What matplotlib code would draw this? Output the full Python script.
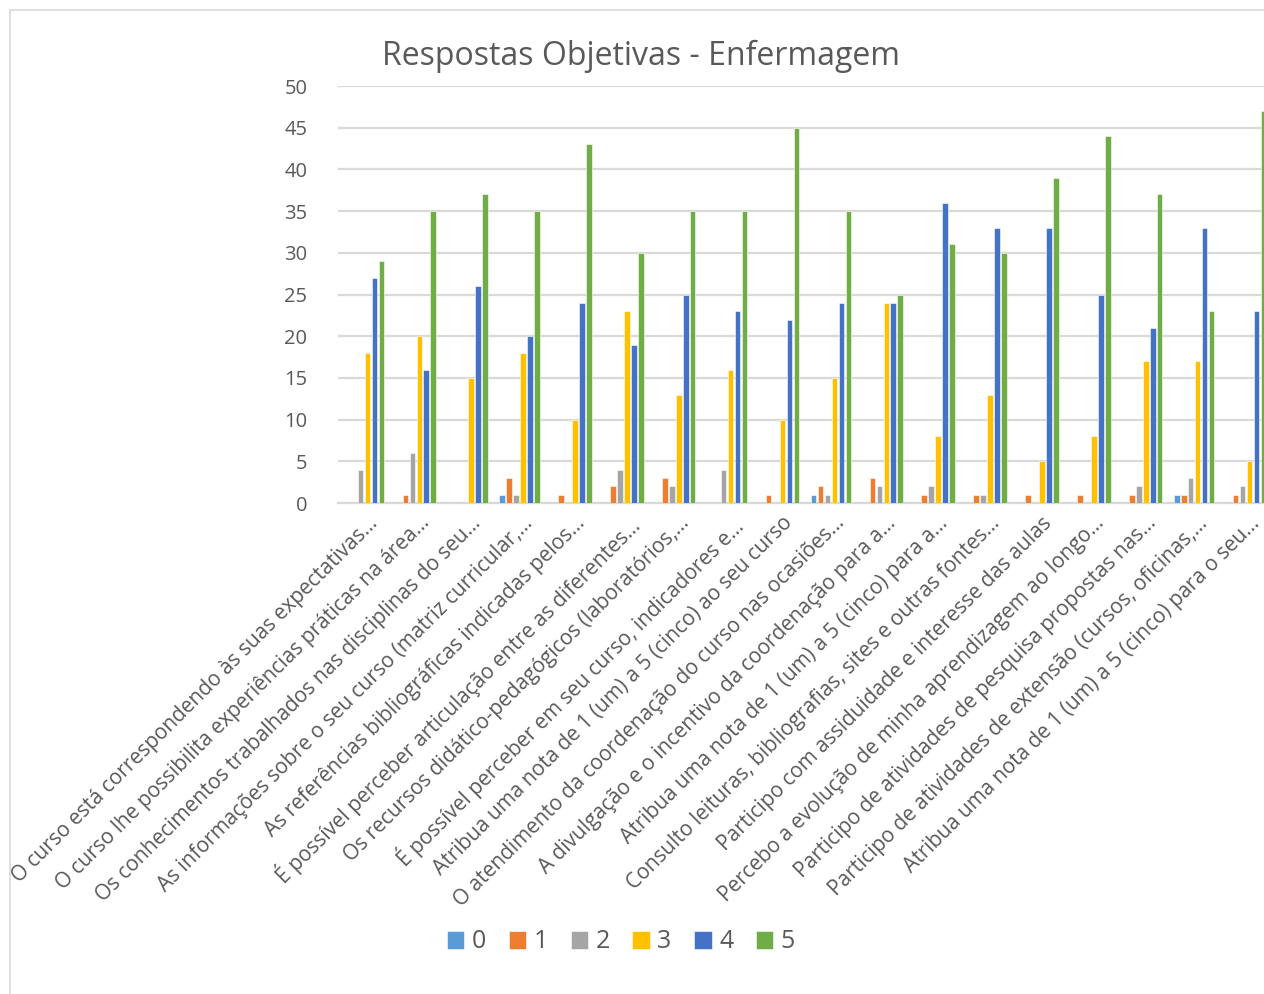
import numpy as np
import matplotlib
matplotlib.use("Agg")
import matplotlib.pyplot as plt
import matplotlib.transforms as mtransforms
from matplotlib.patches import Rectangle

plt.rcParams['font.family'] = ['Open Sans', 'DejaVu Sans']

# ======== Dados ========
perguntas = [
    "O curso está correspondendo às suas expectativas...",
    "O curso lhe possibilita experiências práticas na área...",
    "Os conhecimentos trabalhados nas disciplinas do seu...",
    "As informações sobre o seu curso (matriz curricular,...",
    "As referências bibliográficas indicadas pelos...",
    "É possível perceber articulação entre as diferentes...",
    "Os recursos didático-pedagógicos (laboratórios,...",
    "É possível perceber em seu curso, indicadores e...",
    "Atribua uma nota de 1 (um) a 5 (cinco) ao seu curso",
    "O atendimento da coordenação do curso nas ocasiões...",
    "A divulgação e o incentivo da coordenação para a...",
    "Atribua uma nota de 1 (um) a 5 (cinco) para a...",
    "Consulto leituras, bibliografias, sites e outras fontes...",
    "Participo com assiduidade e interesse das aulas",
    "Percebo a evolução de minha aprendizagem ao longo...",
    "Participo de atividades de pesquisa propostas nas...",
    "Participo de atividades de extensão (cursos, oficinas,...",
    "Atribua uma nota de 1 (um) a 5 (cinco) para o seu...",
]

notas = ["0", "1", "2", "3", "4", "5"]

nota_0 = [0, 0, 0, 1, 0, 0, 0, 0, 0, 1, 0, 0, 0, 0, 0, 0, 1, 0]
nota_1 = [0, 1, 0, 3, 1, 2, 3, 0, 1, 2, 3, 1, 1, 1, 1, 1, 1, 1]
nota_2 = [4, 6, 0, 1, 0, 4, 2, 4, 0, 1, 2, 2, 1, 0, 0, 2, 3, 2]
nota_3 = [18, 20, 15, 18, 10, 23, 13, 16, 10, 15, 24, 8, 13, 5, 8, 17, 17, 5]
nota_4 = [27, 16, 26, 20, 24, 19, 25, 23, 22, 24, 24, 36, 33, 33, 25, 21, 33, 23]
nota_5 = [29, 35, 37, 35, 43, 30, 35, 35, 45, 35, 25, 31, 30, 39, 44, 37, 23, 47]

series = [nota_0, nota_1, nota_2, nota_3, nota_4, nota_5]
cores = ["#5B9BD5", "#ED7D31", "#A5A5A5", "#FFC000", "#4472C4", "#70AD47"]

# ======== Figura ========
fig = plt.figure(figsize=(12.64, 9.94), dpi=100)
fig.patches.append(Rectangle((10 / 1264, -0.01), 1.1, 1 - 10 / 994 + 0.01,
                             transform=fig.transFigure, fill=False,
                             edgecolor="#D9D9D9", linewidth=1.2))

ax = fig.add_axes([338 / 1264, 1 - 503 / 994, (1272 - 338) / 1264, (503 - 86) / 994])

x = np.arange(len(perguntas))
passo = 0.134
largura = 0.108
for i, (vals, cor, nome) in enumerate(zip(series, cores, notas)):
    ax.bar(x + (i - 2.5) * passo, vals, width=largura, color=cor, label=nome,
           edgecolor="white", linewidth=0.4, zorder=3)

ax.set_xlim(-0.5, len(perguntas) - 0.5)
ax.set_ylim(0, 50)
ax.set_yticks(range(0, 51, 5))
ax.grid(axis="y", color="#D9D9D9", linewidth=1.6, zorder=0)
for lado in ["top", "right", "left"]:
    ax.spines[lado].set_visible(False)
ax.spines["bottom"].set_color("#D9D9D9")
ax.spines["bottom"].set_linewidth(1.6)
ax.tick_params(axis="y", length=0, pad=22, labelsize=14.5, labelcolor="#595959")
ax.tick_params(axis="x", length=0, pad=7)

ax.set_xticks(x)
ax.set_xticklabels(perguntas, rotation=45, ha="right", va="top",
                   rotation_mode="anchor", fontsize=15, color="#595959")
# rótulos um pouco à direita, como no Excel
desloc = mtransforms.ScaledTranslation(3 / 100, 0, fig.dpi_scale_trans)
for rot in ax.get_xticklabels():
    rot.set_transform(rot.get_transform() + desloc)

fig.text(641 / 1264, 1 - 56 / 994, "Respostas Objetivas - Enfermagem",
         ha="center", va="center", fontsize=23, color="#595959")

leg = fig.legend(loc="center", bbox_to_anchor=(621 / 1264, 1 - 942 / 994), ncol=6,
                 frameon=False, fontsize=18, handlelength=0.7, handleheight=0.7,
                 handletextpad=0.3, columnspacing=0.9, labelcolor="#595959")

fig.savefig("out.png", dpi=100)
